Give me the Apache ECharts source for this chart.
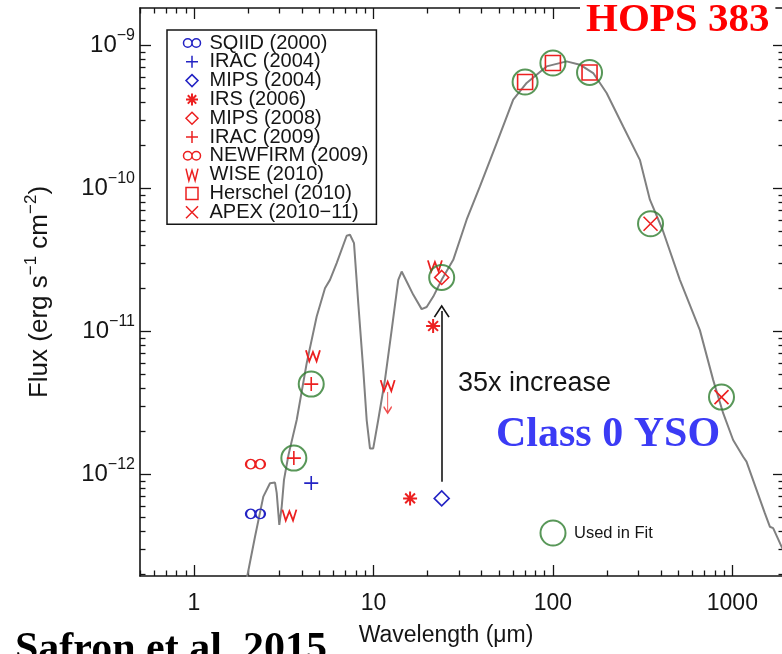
<!DOCTYPE html>
<html>
<head>
<meta charset="utf-8">
<script src="https://cdn.jsdelivr.net/npm/echarts@6/dist/echarts.min.js"></script>
<style>
  html, body { margin: 0; padding: 0; background: #fff; }
  #chart { width: 782px; height: 654px; }
</style>
</head>
<body>
<div id="chart"></div>
<script>
// Axis ranges: wavelength in micron, flux in erg s^-1 cm^-2
const xRange = [0.5, 1940];
const yRange = [1.95e-13, 1.82e-9];
const xTickValues = [1, 10, 100, 1000];
const yTickValues = [1e-12, 1e-11, 1e-10, 1e-9];

// Best-fit model SED
const modelWavelength = [1.96, 1.981, 2.187, 2.433, 2.651, 2.827, 2.889, 2.987, 3.081, 3.172,
  3.361, 3.734, 4.246, 4.826, 5.368, 5.723, 6.237, 7.092, 7.398, 7.789,
  8.229, 8.774, 9.166, 9.561, 9.97, 10.63, 11.59, 12.63, 13.75, 14.36,
  15.31, 16.67, 18.56, 19.79, 21.54, 23.99, 27.84, 33.05, 39.2, 48.6,
  60.1, 71.4, 92.2, 119.2, 141.4, 167.7, 199.2, 246.4, 305.2, 347.1,
  408.4, 509.9, 659.2, 781.6, 888.8, 1010, 1149, 1199, 1364, 1517,
  1618, 1688, 1880, 2091];
const modelFlux = [1.70e-13, 1.95e-13, 3.67e-13, 7.0e-13, 8.67e-13, 8.77e-13, 7.43e-13, 4.44e-13, 5.96e-13, 9.16e-13,
  1.37e-12, 2.40e-12, 6.0e-12, 1.27e-11, 2.0e-11, 2.29e-11, 3.0e-11, 4.66e-11, 4.73e-11, 4.14e-11,
  1.57e-11, 5.38e-12, 2.40e-12, 1.52e-12, 1.52e-12, 2.40e-12, 4.58e-12, 1.02e-11, 2.29e-11, 2.62e-11,
  2.23e-11, 1.80e-11, 1.43e-11, 1.48e-11, 1.75e-11, 2.29e-11, 3.16e-11, 6.03e-11, 1.03e-10, 2.07e-10,
  4.16e-10, 5.45e-10, 7.11e-10, 7.71e-10, 7.31e-10, 6.39e-10, 4.63e-10, 2.70e-10, 1.58e-10, 8.32e-11,
  5.13e-11, 2.29e-11, 1.02e-11, 4.58e-12, 2.68e-12, 1.74e-12, 1.33e-12, 1.23e-12, 7.80e-13, 5.36e-13,
  4.31e-13, 4.21e-13, 3.13e-13, 2.33e-13];

// Photometry by instrument and epoch
const sqiidWave = [2.2];            const sqiidFlux = [5.3e-13];
const irac2004Wave = [4.5];         const irac2004Flux = [8.7e-13];
const mips2004Wave = [24];          const mips2004Flux = [6.8e-13];
const irsWave = [16, 21.5];         const irsFlux = [6.8e-13, 1.09e-11];
const mips2008Wave = [24];          const mips2008Flux = [2.38e-11];
const irac2009Wave = [3.6, 4.5];    const irac2009Flux = [1.30e-12, 4.28e-12];
const newfirmWave = [2.2];          const newfirmFlux = [1.18e-12];
const wiseWave = [3.4, 4.6, 12, 22];
const wiseFlux = [5.2e-13, 6.75e-12, 4.18e-12, 2.87e-11];
const wiseUpperLimit = [false, false, true, false];
const herschelWave = [70, 100, 160]; const herschelFlux = [5.53e-10, 7.51e-10, 6.45e-10];
const apexWave = [350, 870];        const apexFlux = [5.65e-11, 3.47e-12];
const increaseFactor = 35;          // MIPS 24 micron brightening, 2004 -> 2008

const L = Math.log10;
const pts = (w, f) => w.map((x, i) => [L(x), L(f[i])]);

const RED = '#ec2020', BLUE = '#2323c4', GREEN = '#2e7d2e', INK = '#151515';
const SANS = '"Liberation Sans", Arial, sans-serif';
const SERIF = '"Liberation Serif", "Times New Roman", serif';

const SYM = {
  inf: 'path://M0,2.5A2.5,2.5 0 1 1 5,2.5A2.5,2.5 0 1 1 0,2.5ZM5,2.5A2.5,2.5 0 1 1 10,2.5A2.5,2.5 0 1 1 5,2.5Z',
  plus: 'path://M5,0L5,10M0,5L10,5',
  diamond: 'path://M5,0L10,5L5,10L0,5Z',
  star: 'path://M5,0L5,10M0,5L10,5M1.5,1.5L8.5,8.5M8.5,1.5L1.5,8.5',
  wise: 'path://M0,0L2.4,10L5,1.5L7.6,10L10,0',
  square: 'path://M0,0L10,0L10,10L0,10Z',
  cross: 'path://M0,0L10,10M10,0L0,10',
  circle: 'path://M0,5A5,5 0 1 1 10,5A5,5 0 1 1 0,5Z',
  down: 'path://M4,0L4,20M0,14L4,20L8,14',
  chevron: 'path://M0,13L8,0L16,13L14.6,13.9L8,3L1.4,13.9Z'
};

const groups = [
  { name: 'SQIID (2000)',    w: sqiidWave,    f: sqiidFlux,    sym: SYM.inf,     size: [19, 9.5], c: BLUE },
  { name: 'IRAC (2004)',     w: irac2004Wave, f: irac2004Flux, sym: SYM.plus,    size: 14, c: BLUE },
  { name: 'MIPS (2004)',     w: mips2004Wave, f: mips2004Flux, sym: SYM.diamond, size: 15, c: BLUE },
  { name: 'IRS (2006)',      w: irsWave,      f: irsFlux,      sym: SYM.star,    size: 14, c: RED, bw: 2 },
  { name: 'MIPS (2008)',     w: mips2008Wave, f: mips2008Flux, sym: SYM.diamond, size: 14, c: RED },
  { name: 'IRAC (2009)',     w: irac2009Wave, f: irac2009Flux, sym: SYM.plus,    size: 14, c: RED },
  { name: 'NEWFIRM (2009)',  w: newfirmWave,  f: newfirmFlux,  sym: SYM.inf,     size: [19, 9.5], c: RED },
  { name: 'WISE (2010)',     w: wiseWave,     f: wiseFlux,     sym: SYM.wise,    size: [14, 11], c: RED },
  { name: 'Herschel (2010)', w: herschelWave, f: herschelFlux, sym: SYM.square,  size: 15, c: RED },
  { name: 'APEX (2010\u221211)', w: apexWave, f: apexFlux,     sym: SYM.cross,   size: 14, c: RED }
];

// Points used in the SED fit
const fitPoints = [].concat(
  pts(irac2009Wave, irac2009Flux), pts(mips2008Wave, mips2008Flux),
  pts(herschelWave, herschelFlux), pts(apexWave, apexFlux));

const wiseLimits = pts(wiseWave, wiseFlux).filter((p, i) => wiseUpperLimit[i]);

// Ticks: decades and 2..9 subdivisions
const xMajor = xTickValues.map(L);
const yMajor = yTickValues.map(L);
function minorTicks(range) {
  const out = [];
  for (let d = Math.floor(L(range[0])); d <= Math.ceil(L(range[1])); d++) {
    for (let k = 2; k <= 9; k++) {
      const v = k * Math.pow(10, d);
      if (v >= range[0] && v <= range[1]) out.push(L(v));
    }
  }
  return out;
}
const xMinor = minorTicks(xRange);
const yMinor = minorTicks(yRange);

const tickStyle = { color: INK, width: 1.3 };

function makeAxes(kind) {
  const range = kind === 'x' ? xRange : yRange;
  const major = kind === 'x' ? xMajor : yMajor;
  const minor = kind === 'x' ? xMinor : yMinor;
  const pos = kind === 'x' ? ['bottom', 'top'] : ['left', 'right'];
  const base = { type: 'value', min: L(range[0]), max: L(range[1]), splitLine: { show: false } };
  const axes = [];
  pos.forEach(p => {
    axes.push(Object.assign({}, base, {
      position: p,
      axisLine: { show: true, onZero: false, lineStyle: { color: INK, width: 1.6 } },
      axisTick: { show: true, inside: true, length: 11, customValues: major, lineStyle: tickStyle },
      axisLabel: { show: false }
    }));
    axes.push(Object.assign({}, base, {
      position: p,
      axisLine: { show: false, onZero: false },
      axisTick: { show: true, inside: true, length: 5.5, customValues: minor, lineStyle: tickStyle },
      axisLabel: { show: false }
    }));
  });
  return axes;
}

const xAxes = makeAxes('x');
xAxes[0].axisLabel = {
  show: true, customValues: xMajor, margin: 16, color: INK, fontFamily: SANS, fontSize: 23,
  formatter: v => String(Math.round(Math.pow(10, v)))
};
xAxes[0].name = 'Wavelength (\u03bcm)';
xAxes[0].nameLocation = 'middle';
xAxes[0].nameGap = 48;
xAxes[0].nameTextStyle = { color: INK, fontFamily: SANS, fontSize: 23, padding: [0, 32, 0, 0] };

const yAxes = makeAxes('y');
yAxes[0].axisLabel = {
  show: true, customValues: yMajor, margin: 5, color: INK, fontFamily: SANS,
  formatter: v => '{b|10}{s|\u2212' + Math.round(-v) + '}',
  rich: {
    b: { fontSize: 24, fontFamily: SANS, color: INK, lineHeight: 36 },
    s: { fontSize: 16, fontFamily: SANS, color: INK, lineHeight: 16, verticalAlign: 'top' }
  }
};
yAxes[0].name = 'Flux (erg s{sup|\u22121} cm{sup|\u22122})';
yAxes[0].nameLocation = 'middle';
yAxes[0].nameGap = 83;
yAxes[0].nameTextStyle = {
  color: INK, fontFamily: SANS, fontSize: 26, lineHeight: 34,
  rich: { sup: { fontSize: 17, fontFamily: SANS, color: INK, lineHeight: 18, verticalAlign: 'top' } }
};

const series = [{
  type: 'line', name: 'model', data: pts(modelWavelength, modelFlux),
  xAxisIndex: 0, yAxisIndex: 0, showSymbol: false, symbol: 'none',
  lineStyle: { color: '#808080', width: 2 }, z: 2, silent: true
}];

groups.forEach(g => {
  series.push({
    type: 'scatter', name: g.name, data: pts(g.w, g.f), xAxisIndex: 0, yAxisIndex: 0,
    symbol: g.sym, symbolSize: g.size,
    itemStyle: { color: 'none', borderColor: g.c, borderWidth: g.bw || 1.6, opacity: 1 },
    z: 3, silent: true
  });
});

series.push({
  type: 'scatter', name: 'WISE limit', data: wiseLimits, xAxisIndex: 0, yAxisIndex: 0,
  symbol: SYM.down, symbolSize: [8, 21], symbolOffset: [0, 17],
  itemStyle: { color: 'none', borderColor: RED, borderWidth: 1.5 }, z: 3, silent: true
});

series.push({
  type: 'scatter', name: 'Used in Fit', data: fitPoints, xAxisIndex: 0, yAxisIndex: 0,
  symbol: SYM.circle, symbolSize: 25,
  itemStyle: { color: 'none', borderColor: GREEN, borderWidth: 2 }, z: 4, silent: true
});

// Arrow marking the 24 micron increase between the two MIPS epochs
const arrowX = L(mips2004Wave[0]);
series.push({
  type: 'line', name: 'increase', data: [], xAxisIndex: 0, yAxisIndex: 0, silent: true,
  markLine: {
    silent: true, animation: false,
    symbol: ['none', SYM.chevron], symbolSize: [16, 13],
    lineStyle: { color: INK, width: 1.6, type: 'solid' },
    label: { show: false },
    data: [[
      { coord: [arrowX, L(mips2004Flux[0]) + 0.117] },
      { coord: [arrowX, L(mips2008Flux[0]) - 0.235] }
    ]]
  }
});

const chart = echarts.init(document.getElementById('chart'), null, { renderer: 'canvas' });
chart.setOption({
  animation: false,
  backgroundColor: '#fff',
  grid: { left: 140, top: 8, width: 644, height: 568, outerBoundsMode: 'none' },
  xAxis: xAxes,
  yAxis: yAxes,
  legend: [{
    data: groups.map(g => ({
      name: g.name, icon: g.sym,
      itemStyle: { color: 'none', borderColor: g.c, borderWidth: g.bw || 1.5 }
    })),
    orient: 'vertical', left: 167, top: 30, itemGap: -1.2, itemWidth: 17, itemHeight: 12,
    padding: [3, 8, 2, 14], borderColor: INK, borderWidth: 1.5, backgroundColor: '#fff',
    selectedMode: false, symbolKeepAspect: true,
    textStyle: { fontFamily: SANS, fontSize: 20, lineHeight: 18.8, color: INK, padding: [0, 0, 0, 4] }
  }, {
    data: [{ name: 'Used in Fit', icon: SYM.circle,
      itemStyle: { color: 'none', borderColor: GREEN, borderWidth: 2 } }],
    left: 538, top: 518, itemWidth: 28, itemHeight: 25, padding: 0,
    selectedMode: false, symbolKeepAspect: true,
    textStyle: { fontFamily: SANS, fontSize: 16.5, color: INK, padding: [0, 0, 0, 2] }
  }],
  series,
  graphic: [
    { type: 'text', left: 458, top: 370, z: 10,
      style: { text: '35x increase', font: '27px ' + SANS, fill: INK } },
    { type: 'text', left: 580, top: 0, z: 10,
      style: { text: 'HOPS 383', font: 'bold 41px ' + SERIF, fill: '#ff0000',
        backgroundColor: '#fff', padding: [0, 6, 0, 6] } },
    { type: 'text', left: 496, top: 414, z: 10,
      style: { text: 'Class 0 YSO', font: 'bold 42px ' + SERIF, fill: '#3b3bf5' } },
    { type: 'text', left: 15, top: 629, z: 10,
      style: { text: 'Safron et al. 2015', font: 'bold 42px ' + SERIF, fill: '#000' } }
  ]
});
</script>
</body>
</html>
